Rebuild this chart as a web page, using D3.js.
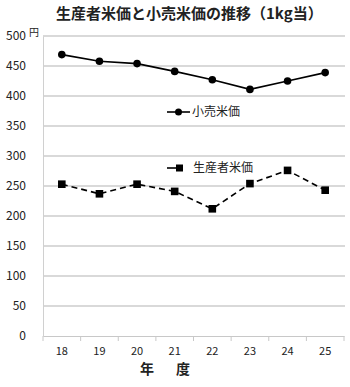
<!DOCTYPE html>
<html><head><meta charset="utf-8">
<script src="https://cdn.jsdelivr.net/npm/d3@7/dist/d3.min.js"></script>
<style>body{margin:0;background:#fff}svg{display:block}text{font-family:"Noto Sans CJK JP","Noto Sans",sans-serif}</style>
</head><body>
<script>
const years = ["18","19","20","21","22","23","24","25"];
const retail = [469,458,454,441,427,411,425,439];
const producer = [253,237,253,241,212,254,276,243];
const yTicks = [0,50,100,150,200,250,300,350,400,450,500];

const W=350,H=387;
const svg=d3.select("body").append("svg").attr("width",W).attr("height",H);
const x=d3.scaleBand().domain(years).range([43,344]);
const y=d3.scaleLinear().domain([0,500]).range([336,36]);

svg.append("g").selectAll("line").data(yTicks.filter(d=>d>0)).join("line")
 .attr("x1",43).attr("x2",345).attr("y1",d=>y(d)).attr("y2",d=>y(d))
 .attr("stroke","#b3b3b3").attr("stroke-width",1.2);
const ya=svg.append("g").attr("transform","translate(43,0)")
 .call(d3.axisLeft(y).tickValues(yTicks).tickSize(0).tickPadding(17));
ya.select(".domain").attr("stroke","#d0d0d0");
ya.selectAll("text").attr("font-size",12).attr("fill","#222").attr("font-family","'Liberation Sans',Arial,sans-serif");
const xa=svg.append("g").attr("transform","translate(0,336)")
 .call(d3.axisBottom(x).tickSize(0).tickPadding(11));
xa.select(".domain").attr("stroke","#c8c8c8");
xa.selectAll("text").attr("font-size",11).attr("fill","#222").attr("font-family","'Liberation Sans',Arial,sans-serif");
svg.append("g").selectAll("line").data(d3.range(years.length+1)).join("line")
 .attr("x1",i=>43+i*x.step()).attr("x2",i=>43+i*x.step()).attr("y1",336).attr("y2",341)
 .attr("stroke","#c8c8c8");

const cx=d=>x(d)+x.bandwidth()/2;
const line=d3.line().x((d,i)=>cx(years[i])).y(d=>y(d));
svg.append("path").datum(retail).attr("d",line).attr("fill","none").attr("stroke","#000").attr("stroke-width",1.6);
svg.append("g").selectAll("circle").data(retail).join("circle")
 .attr("cx",(d,i)=>cx(years[i])).attr("cy",d=>y(d)).attr("r",3.8).attr("fill","#000");
svg.append("path").datum(producer).attr("d",line).attr("fill","none").attr("stroke","#000").attr("stroke-width",1.6).attr("stroke-dasharray","6,4");
svg.append("g").selectAll("rect").data(producer).join("rect")
 .attr("x",(d,i)=>cx(years[i])-3.8).attr("y",d=>y(d)-3.8).attr("width",7.6).attr("height",7.6).attr("fill","#000");

svg.append("line").attr("x1",167).attr("x2",190).attr("y1",112).attr("y2",112).attr("stroke","#000").attr("stroke-width",1.6);
svg.append("circle").attr("cx",178.5).attr("cy",112).attr("r",3.5).attr("fill","#000");
svg.append("text").attr("x",192).attr("y",116).attr("font-size",12).attr("fill","#222").text("小売米価");
svg.append("line").attr("x1",167).attr("x2",176).attr("y1",168).attr("y2",168).attr("stroke","#000").attr("stroke-width",1.6);
svg.append("rect").attr("x",176).attr("y",164.5).attr("width",7).attr("height",7).attr("fill","#000");
svg.append("text").attr("x",193).attr("y",172).attr("font-size",12).attr("fill","#222").text("生産者米価");

svg.append("text").attr("x",56).attr("y",19).attr("font-size",15).attr("font-weight","bold").attr("fill","#222").text("生産者米価と小売米価の推移（1kg当）");
svg.append("text").attr("x",29).attr("y",36).attr("font-size",10).attr("fill","#222").text("円");
svg.append("text").attr("x",140).attr("y",374).attr("font-size",14).attr("font-weight","bold").attr("fill","#222").text("年");
svg.append("text").attr("x",176).attr("y",374).attr("font-size",14).attr("font-weight","bold").attr("fill","#222").text("度");
</script>
</body></html>
